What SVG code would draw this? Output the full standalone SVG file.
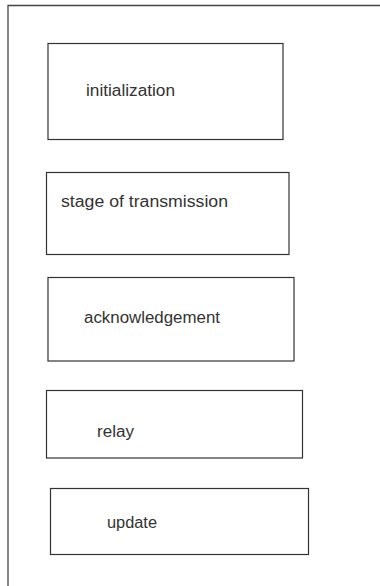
<svg xmlns="http://www.w3.org/2000/svg" width="380" height="586" viewBox="0 0 380 586">
<style>
.box{fill:#fff;stroke:#333;stroke-width:1.2}
.lbl{font-family:"Liberation Sans",Arial,sans-serif;font-size:16px;fill:#333}
.frame{fill:none;stroke:#444;stroke-width:1.3}
</style>
<rect width="380" height="586" fill="#fff"/>
<g id="frame"><path class="frame" d="M8 586 V5.5 H380"/></g>
<g id="connectors"></g>
<g id="n1"><rect class="box" x="48" y="43.5" width="235" height="96"/><text class="lbl" x="86" y="96" textLength="89" lengthAdjust="spacingAndGlyphs">initialization</text></g>
<g id="n2"><rect class="box" x="46.5" y="172.5" width="242.5" height="82"/><text class="lbl" x="61" y="207" textLength="167" lengthAdjust="spacingAndGlyphs">stage of transmission</text></g>
<g id="n3"><rect class="box" x="48" y="277.5" width="246" height="83.5"/><text class="lbl" x="84" y="323" textLength="136" lengthAdjust="spacingAndGlyphs">acknowledgement</text></g>
<g id="n4"><rect class="box" x="46.5" y="390.5" width="256" height="67.5"/><text class="lbl" x="97" y="437" textLength="37" lengthAdjust="spacingAndGlyphs">relay</text></g>
<g id="n5"><rect class="box" x="50.5" y="488.5" width="258" height="66"/><text class="lbl" x="107" y="528" textLength="50" lengthAdjust="spacingAndGlyphs">update</text></g>
</svg>
